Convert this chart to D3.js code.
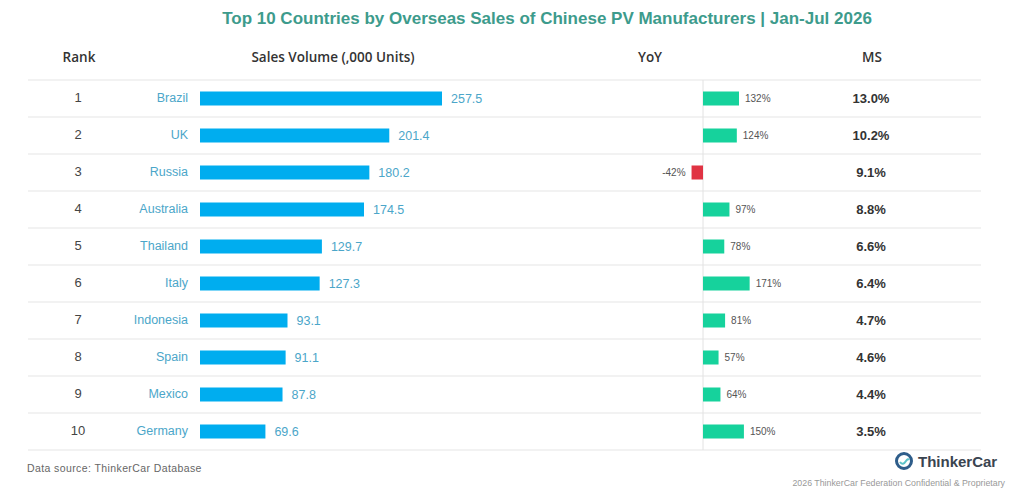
<!DOCTYPE html>
<html lang="en">
<head>
    <meta charset="UTF-8">
    <title>Top 10 Countries by Overseas Sales</title>
    <script src="https://d3js.org/d3.v7.min.js"></script>
    <style>
        body { margin: 0; background: #fff; font-family: "Liberation Sans", Arial, sans-serif; }
        svg text { font-family: "Liberation Sans", Arial, sans-serif; }
        .head { font-family: "Open Sans", "Liberation Sans", sans-serif; font-weight: 600; font-size: 13.5px; fill: #333; }
    </style>
</head>
<body>
    <div id="chart"></div>
    <script>
        const ranks = [1, 2, 3, 4, 5, 6, 7, 8, 9, 10];
        const countries = ["Brazil", "UK", "Russia", "Australia", "Thailand", "Italy", "Indonesia", "Spain", "Mexico", "Germany"];
        const sales = [257.5, 201.4, 180.2, 174.5, 129.7, 127.3, 93.1, 91.1, 87.8, 69.6];
        const yoy = [132, 124, -42, 97, 78, 171, 81, 57, 64, 150];
        const share = [13.0, 10.2, 9.1, 8.8, 6.6, 6.4, 4.7, 4.6, 4.4, 3.5];
        const headers = ["Rank", "Sales Volume (,000 Units)", "YoY", "MS"];

        const width = 1024, height = 500;
        const svg = d3.select("#chart").append("svg")
            .attr("width", width)
            .attr("height", height);

        svg.append("text")
            .attr("x", 547).attr("y", 24)
            .attr("text-anchor", "middle")
            .attr("font-size", "17px")
            .attr("font-weight", "bold")
            .attr("fill", "#3d9b8c")
            .text("Top 10 Countries by Overseas Sales of Chinese PV Manufacturers | Jan-Jul 2026");

        const headX = [79, 333, 650, 872];
        svg.selectAll(".head")
            .data(headers)
            .enter().append("text")
            .attr("class", "head")
            .attr("x", (d, i) => headX[i])
            .attr("y", 62)
            .attr("text-anchor", "middle")
            .text(d => d);

        // rows
        const y = d3.scaleBand()
            .domain(countries)
            .range([80, 450]);

        const x = d3.scaleLinear().domain([0, 257.5]).range([200, 442]);
        const xy = d3.scaleLinear().domain([0, 132]).range([703, 739]);

        const lines = d3.range(countries.length + 1).map(i => 80 + i * y.step());
        svg.selectAll(".rowline")
            .data(lines)
            .enter().append("line")
            .attr("x1", 28).attr("x2", 981)
            .attr("y1", d => d).attr("y2", d => d)
            .attr("stroke", "#e6e6e6")
            .attr("stroke-width", 1.2);

        svg.append("line")
            .attr("x1", xy(0)).attr("x2", xy(0))
            .attr("y1", 80).attr("y2", 450)
            .attr("stroke", "#e2e2e2");

        const row = svg.selectAll(".row")
            .data(countries)
            .enter().append("g")
            .attr("transform", d => `translate(0,${y(d) + y.bandwidth() / 2})`);

        row.append("text")
            .attr("x", 78).attr("dy", "0.3em")
            .attr("text-anchor", "middle")
            .attr("font-size", "13px")
            .attr("fill", "#444")
            .text((d, i) => ranks[i]);

        row.append("text")
            .attr("x", 188).attr("dy", "0.25em")
            .attr("text-anchor", "end")
            .attr("font-size", "12.5px")
            .attr("fill", "#4ba6c9")
            .text(d => d);

        row.append("rect")
            .attr("x", x(0)).attr("y", -7)
            .attr("width", (d, i) => x(sales[i]) - x(0))
            .attr("height", 14)
            .attr("fill", "#00adef");

        row.append("text")
            .attr("x", (d, i) => x(sales[i]) + 9).attr("dy", "0.35em")
            .attr("font-size", "12.5px")
            .attr("fill", "#4ba6c9")
            .text((d, i) => sales[i].toFixed(1));

        row.append("rect")
            .attr("x", (d, i) => Math.min(xy(0), xy(yoy[i])))
            .attr("y", -7)
            .attr("width", (d, i) => Math.abs(xy(yoy[i]) - xy(0)))
            .attr("height", 14)
            .attr("fill", (d, i) => yoy[i] < 0 ? "#e03343" : "#16d29c");

        row.append("text")
            .attr("x", (d, i) => yoy[i] < 0 ? xy(yoy[i]) - 6 : xy(yoy[i]) + 6)
            .attr("dy", "0.35em")
            .attr("text-anchor", (d, i) => yoy[i] < 0 ? "end" : "start")
            .attr("font-size", "10px")
            .attr("fill", "#555")
            .text((d, i) => yoy[i] + "%");

        row.append("text")
            .attr("x", 871).attr("dy", "0.35em")
            .attr("text-anchor", "middle")
            .attr("font-size", "13px")
            .attr("font-weight", "bold")
            .attr("fill", "#333")
            .text((d, i) => share[i].toFixed(1) + "%");

        // footer
        svg.append("text")
            .attr("x", 27).attr("y", 472)
            .attr("font-size", "10.5px")
            .attr("letter-spacing", "0.4px")
            .attr("fill", "#666")
            .text("Data source: ThinkerCar Database");

        const logo = svg.append("g").attr("transform", "translate(904,461)");
        logo.append("circle").attr("r", 7.5).attr("fill", "none")
            .attr("stroke", "#2e5d8a").attr("stroke-width", 3);
        logo.append("path").attr("d", "M-4,1 Q-1,5 2,0 Q4,-3 5,-1")
            .attr("fill", "none").attr("stroke", "#5cc3c9").attr("stroke-width", 2);
        logo.append("text")
            .attr("x", 14).attr("y", 6)
            .attr("font-size", "15px")
            .attr("font-weight", "bold")
            .attr("fill", "#3a4450")
            .text("ThinkerCar");

        svg.append("text")
            .attr("x", 1005).attr("y", 486)
            .attr("text-anchor", "end")
            .attr("font-size", "8.8px")
            .attr("fill", "#999")
            .text("2026 ThinkerCar Federation Confidential & Proprietary");
    </script>
</body>
</html>
